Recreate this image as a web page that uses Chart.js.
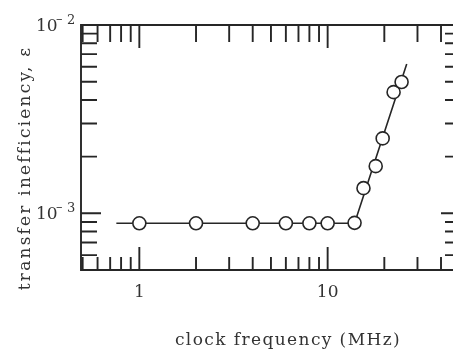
<!DOCTYPE html>
<html>
<head>
<meta charset="utf-8">
<script src="https://cdn.jsdelivr.net/npm/chart.js@4/dist/chart.umd.min.js"></script>
<style>
html, body { margin: 0; padding: 0; background: #fff; }
#wrap { width: 457px; height: 349px; }
</style>
</head>
<body>
<div id="wrap"><canvas id="chart" width="457" height="349"></canvas></div>
<script>
// measured points, clock frequency (MHz) vs transfer inefficiency
var freq  = [1.0, 2.0, 4.0, 6.0, 8.0, 10.0, 13.9, 15.5, 18.0, 19.6, 22.4, 24.7];
var ineff = [8.85e-4, 8.85e-4, 8.85e-4, 8.85e-4, 8.85e-4, 8.85e-4, 8.9e-4, 1.36e-3, 1.78e-3, 2.5e-3, 4.4e-3, 4.98e-3];

// drawn trend line
var fitFreq  = [0.755, 13.9, 26.3];
var fitIneff = [8.85e-4, 8.85e-4, 6.2e-3];

// tick positions (log decades)
var xTicks = [0.5, 0.6, 0.7, 0.8, 0.9, 1, 2, 3, 4, 5, 6, 7, 8, 9, 10, 20, 30, 40];
var xMajor = [1, 10];
var yTicks = [5e-4, 6e-4, 7e-4, 8e-4, 9e-4, 1e-3, 2e-3, 3e-3, 4e-3, 5e-3, 6e-3, 7e-3, 8e-3, 9e-3, 1e-2];
var yMajor = [1e-3, 1e-2];
var yLabelExp = ['-2', '-3'];

var xTitle = 'clock frequency (MHz)';
var yTitle = 'transfer inefficiency, \u03b5';

var ink = '#262626';
var serif = '"DejaVu Serif", serif';

var toPts = function(xs, ys){
  var out = [];
  for (var i = 0; i < xs.length; i++) out.push({x: xs[i], y: ys[i]});
  return out;
};

/* frame, inward ticks, exponent labels and axis titles */
var framePlugin = {
  id: 'frame',
  afterDraw: function(chart){
    var ctx = chart.ctx, a = chart.chartArea;
    var xs = chart.scales.x, ys = chart.scales.y;
    ctx.save();
    ctx.strokeStyle = ink;
    ctx.lineWidth = 1.9;
    ctx.lineCap = 'butt';

    // frame: left, top, bottom (right edge has no line in the original)
    ctx.beginPath();
    ctx.moveTo(a.right, a.top); ctx.lineTo(a.left, a.top);
    ctx.lineTo(a.left, a.bottom); ctx.lineTo(a.right, a.bottom);
    ctx.stroke();

    ctx.beginPath();
    xTicks.forEach(function(v){
      var px = xs.getPixelForValue(v);
      var major = xMajor.indexOf(v) >= 0;
      ctx.moveTo(px, a.bottom); ctx.lineTo(px, a.bottom - (major ? 23 : 13));
      ctx.moveTo(px, a.top); ctx.lineTo(px, a.top + (major ? 23 : 17));
    });
    yTicks.forEach(function(v){
      var py = ys.getPixelForValue(v);
      var major = yMajor.indexOf(v) >= 0;
      ctx.moveTo(a.left, py); ctx.lineTo(a.left + (major ? 20 : 16), py);
      ctx.moveTo(a.right - (major ? 4 : 0), py); ctx.lineTo(a.right + 8, py);
    });
    ctx.stroke();

    // y labels 10^-2, 10^-3
    ctx.fillStyle = '#333';
    ctx.textBaseline = 'alphabetic';
    ctx.textAlign = 'left';
    [1e-2, 1e-3].forEach(function(v, i){
      var py = ys.getPixelForValue(v);
      ctx.font = '17px ' + serif;
      ctx.fillText('10', 36, py + 6);
      ctx.font = '13px ' + serif;
      ctx.fillText('\u2013', 56, py - 2);
      ctx.fillText(yLabelExp[i].charAt(1), 67, py - 1.5);
    });

    // axis titles
    ctx.font = '17px ' + serif;
    ctx.letterSpacing = '1.4px';
    ctx.textAlign = 'center';
    ctx.fillText(xTitle, 288, 345);
    ctx.translate(30, 168);
    ctx.rotate(-Math.PI / 2);
    ctx.letterSpacing = '2.2px';
    ctx.fillText(yTitle, 0, 0);
    ctx.restore();
  }
};

var ctx = document.getElementById('chart');
var myChart = new Chart(ctx, {
  type: 'scatter',
  data: {
    datasets: [
      {
        data: toPts(freq, ineff),
        showLine: false,
        pointRadius: 6.5,
        pointBackgroundColor: '#fff',
        pointBorderColor: ink,
        pointBorderWidth: 1.6
      },
      {
        data: toPts(fitFreq, fitIneff),
        showLine: true,
        pointRadius: 0,
        borderColor: ink,
        borderWidth: 1.6,
        tension: 0
      }
    ]
  },
  options: {
    responsive: false,
    animation: false,
    devicePixelRatio: 1,
    layout: { padding: { top: 25, right: 12, left: 0, bottom: 0 } },
    plugins: { legend: { display: false }, tooltip: { enabled: false } },
    scales: {
      x: {
        type: 'logarithmic',
        min: 0.49,
        max: 42,
        grid: { display: false, drawTicks: false },
        border: { display: false },
        afterBuildTicks: function(scale){
          scale.ticks = xTicks.map(function(v){ return {value: v}; });
        },
        afterFit: function(scale){ scale.height = 79; },
        ticks: {
          autoSkip: false,
          maxRotation: 0,
          padding: 12,
          color: '#333',
          font: { family: serif, size: 17 },
          callback: function(v){ return xMajor.indexOf(v) >= 0 ? String(v) : ''; }
        }
      },
      y: {
        type: 'logarithmic',
        min: 5e-4,
        max: 1e-2,
        grid: { display: false, drawTicks: false },
        border: { display: false },
        afterFit: function(scale){ scale.width = 81; },
        ticks: { display: false }
      }
    }
  },
  plugins: [framePlugin]
});
</script>
</body>
</html>
